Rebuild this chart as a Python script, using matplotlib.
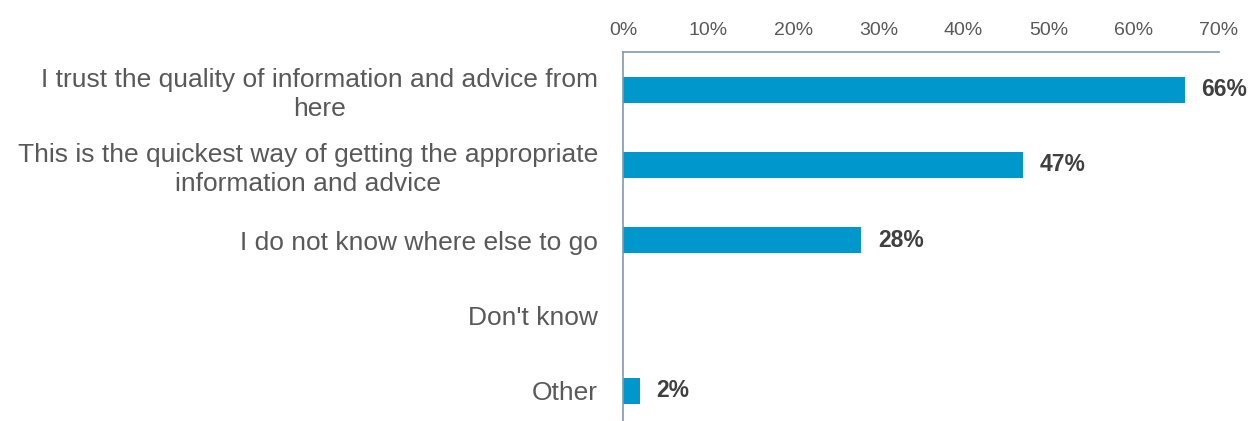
import matplotlib.pyplot as plt

plt.rcParams['font.family'] = ['Liberation Sans', 'DejaVu Sans']

categories = [
    'I trust the quality of information and advice from\nhere',
    'This is the quickest way of getting the appropriate\ninformation and advice',
    'I do not know where else to go',
    "Don't know",
    'Other',
]
values = [66, 47, 28, 0, 2]
ticks = [0, 10, 20, 30, 40, 50, 60, 70]

fig = plt.figure(figsize=(12.52, 4.21), dpi=100)
ax = fig.add_axes([0.4976, -0.0178, 0.476, 0.8943])

pos = list(range(len(categories)))
ax.barh(pos, values, height=0.345, color='#0098CC')
ax.set_ylim(len(categories) - 0.5, -0.5)
ax.set_xlim(0, 70)

# value labels next to each bar (none for the empty category)
for y, v in zip(pos, values):
    if v > 0:
        ax.annotate(f'{v}%', (v, y), xytext=(12, 0), textcoords='offset points',
                    va='center', ha='left', fontsize=16.5, fontweight='bold',
                    color='#404040')

ax.xaxis.tick_top()
ax.set_xticks(ticks)
ax.set_xticklabels([f'{t}%' for t in ticks], fontsize=14, color='#595959')
ax.set_yticks(pos)
ax.set_yticklabels(categories, fontsize=19, color='#595959',
                   multialignment='center', linespacing=1.25)
ax.tick_params(axis='both', length=0)
ax.tick_params(axis='x', pad=9.5)
ax.tick_params(axis='y', pad=18)

for side in ['right', 'bottom']:
    ax.spines[side].set_visible(False)
for side in ['left', 'top']:
    ax.spines[side].set_color('#8497AA')
    ax.spines[side].set_linewidth(1.2)

fig.savefig('out.png', dpi=100)
